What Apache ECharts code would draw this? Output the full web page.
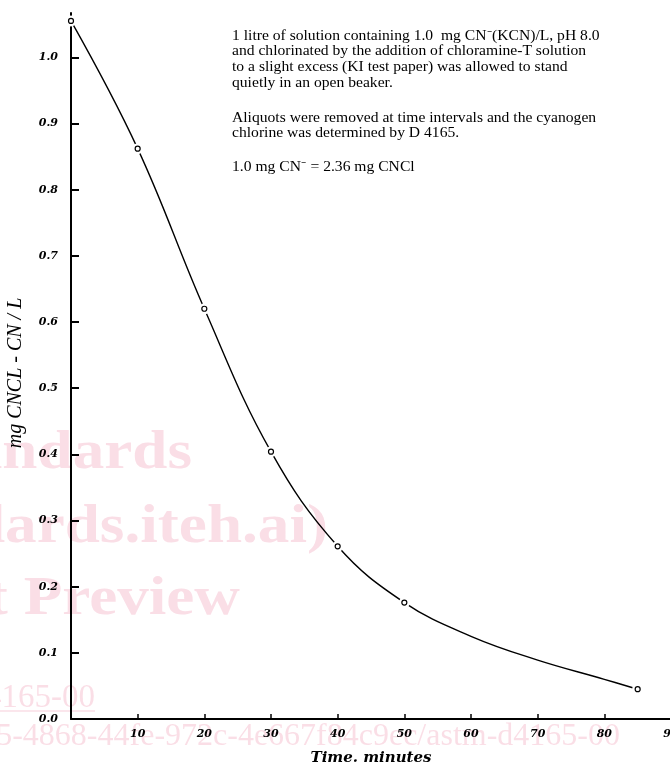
<!DOCTYPE html>
<html><head><meta charset="utf-8">
<script src="https://cdn.jsdelivr.net/npm/echarts@6/dist/echarts.min.js"></script>
<style>html,body{margin:0;padding:0;background:#fff}#c{width:670px;height:764px}</style>
</head><body><div id="c"></div>
<script>
// Measured points (open circles)
const timeMinutes = [0, 10, 20, 30, 40, 50, 85];
const cnclValues = [1.055, 0.862, 0.620, 0.404, 0.261, 0.176, 0.045];
// Drawn smooth curve
const curveTimes = [0, 10, 20, 30, 40, 50, 60, 70, 80, 85];
const curveValues = [1.055, 0.862, 0.620, 0.404, 0.261, 0.176, 0.125, 0.089, 0.060, 0.045];
// Tick labels
const xTicks = [10, 20, 30, 40, 50, 60, 70, 80, 90];
const yTicks = [0, 0.1, 0.2, 0.3, 0.4, 0.5, 0.6, 0.7, 0.8, 0.9, 1.0];
// Texts
const xTitle = 'Time. minutes';
const yTitle = 'mg CNCL - CN / L';
const notePara1 = [
  '1 litre of solution containing 1.0  mg CN\u207B(KCN)/L, pH 8.0',
  'and chlorinated by the addition of chloramine-T solution',
  'to a slight excess (KI test paper) was allowed to stand',
  'quietly in an open beaker.'
];
const notePara2 = [
  'Aliquots were removed at time intervals and the cyanogen',
  'chlorine was determined by D 4165.'
];
const notePara3 = ['1.0 mg CN\u207B = 2.36 mg CNCl'];
const watermarkBig = ['iTeh Standards', '(https://standards.iteh.ai)', 'Document Preview'];
const watermarkSmall = ['ASTM D4165-00', 'https://standards.iteh.ai/catalog/standards/sist/0a1b2c35-4868-44fe-972c-4e667f84c9ec/astm-d4165-00'];

const pts = timeMinutes.map((t, i) => [t, cnclValues[i]]);
const curve = curveTimes.map((t, i) => [t, curveValues[i]]);

const tickFont = { fontFamily: 'DejaVu Serif', fontStyle: 'italic', fontWeight: 'bold', fontSize: 11, color: '#000' };
const pink = 'rgba(230,80,120,0.19)';
const noteStyle = { fontFamily: 'Liberation Serif', fontSize: 14, lineHeight: 15.7, fill: '#000' };

function note(lines, y) {
  return { type: 'text', silent: true, x: 232, y: y, scaleX: 1.115, originX: 0, originY: 0,
    style: Object.assign({ text: lines.join('\n'), verticalAlign: 'top' }, noteStyle) };
}
function wm(text, x, y, size, bold, sx) {
  return { type: 'text', z: -10, silent: true, x: x, y: y, scaleX: sx, originX: 0, originY: 0,
    style: { text: text, fontFamily: 'Liberation Serif', fontWeight: bold ? 'bold' : 'normal', fontSize: size,
      fill: pink, align: 'right', verticalAlign: 'bottom' } };
}

const chart = echarts.init(document.getElementById('c'), null, { renderer: 'canvas' });
chart.setOption({
  animation: false,
  backgroundColor: '#fff',
  grid: { left: 71, right: -1, top: 13, bottom: 45, containLabel: false, outerBoundsMode: 'none' },
  xAxis: {
    type: 'value', min: 0, max: 90,
    name: xTitle, nameLocation: 'middle', nameGap: 32,
    nameTextStyle: { fontFamily: 'DejaVu Serif', fontStyle: 'italic', fontWeight: 'bold', fontSize: 15, color: '#000' },
    axisLine: { show: true, lineStyle: { color: '#000', width: 2 } },
    axisTick: { show: true, inside: true, length: 5, lineStyle: { color: '#000', width: 1.5 }, customValues: xTicks },
    axisLabel: Object.assign({ margin: 10, customValues: xTicks, formatter: v => String(v) }, tickFont),
    splitLine: { show: false }
  },
  yAxis: {
    type: 'value', min: 0, max: 1.067,
    name: yTitle, nameLocation: 'middle', nameGap: 45,
    nameTextStyle: { fontFamily: 'Liberation Serif', fontStyle: 'italic', fontSize: 20, color: '#000', padding: [0, 14, 0, 0] },
    axisLine: { show: true, lineStyle: { color: '#000', width: 2 } },
    axisTick: { show: true, inside: true, length: 8, lineStyle: { color: '#000', width: 2 }, customValues: yTicks },
    axisLabel: Object.assign({ margin: 13, customValues: yTicks, formatter: v => v.toFixed(1) }, tickFont),
    splitLine: { show: false }
  },
  series: [
    { type: 'line', data: curve, smooth: 0.4, showSymbol: false, symbol: 'none',
      lineStyle: { color: '#000', width: 1.4 }, z: 2, silent: true },
    { type: 'scatter', data: pts, symbol: 'circle', symbolSize: 11,
      itemStyle: { color: '#fff', opacity: 1 }, z: 3, silent: true },
    { type: 'scatter', data: pts, symbol: 'circle', symbolSize: 5,
      itemStyle: { color: '#fff', borderColor: '#000', borderWidth: 1.2, opacity: 1 }, z: 4, silent: true }
  ],
  graphic: [
    wm(watermarkBig[0], 192, 481, 54, true, 1.17),
    wm(watermarkBig[1], 328, 555, 54, true, 1.17),
    wm(watermarkBig[2], 240, 627, 54, true, 1.17),
    wm(watermarkSmall[0], 95, 715, 33, false, 1),
    { type: 'line', z: -10, silent: true, shape: { x1: -10, y1: 711, x2: 95, y2: 711 }, style: { stroke: pink, lineWidth: 1.5 } },
    wm(watermarkSmall[1], 620, 753, 32, false, 1),
    note(notePara1, 28),
    note(notePara2, 110),
    note(notePara3, 159)
  ]
});
</script></body></html>
